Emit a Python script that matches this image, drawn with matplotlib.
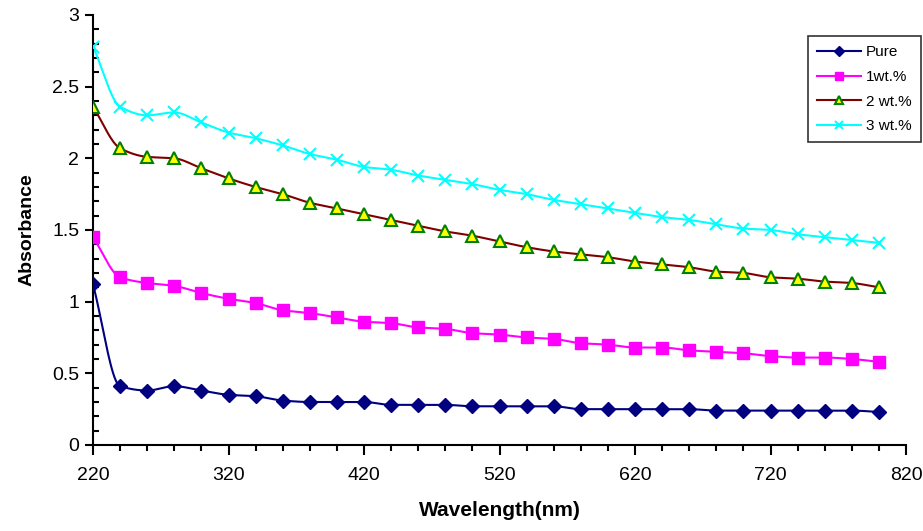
import numpy as np
import matplotlib.pyplot as plt
from matplotlib.ticker import MultipleLocator

plt.rcParams['font.family'] = ['Liberation Sans', 'DejaVu Sans']

wavelength = list(range(220, 801, 20))

pure = [1.12, 0.41, 0.38, 0.41, 0.38, 0.35, 0.34, 0.31, 0.30, 0.30,
        0.30, 0.28, 0.28, 0.28, 0.27, 0.27, 0.27, 0.27, 0.25, 0.25,
        0.25, 0.25, 0.25, 0.24, 0.24, 0.24, 0.24, 0.24, 0.24, 0.23]
wt1 = [1.45, 1.17, 1.13, 1.11, 1.06, 1.02, 0.99, 0.94, 0.92, 0.89,
       0.86, 0.85, 0.82, 0.81, 0.78, 0.77, 0.75, 0.74, 0.71, 0.70,
       0.68, 0.68, 0.66, 0.65, 0.64, 0.62, 0.61, 0.61, 0.60, 0.58]
wt2 = [2.36, 2.07, 2.01, 2.00, 1.93, 1.86, 1.80, 1.75, 1.69, 1.65,
       1.61, 1.57, 1.53, 1.49, 1.46, 1.42, 1.38, 1.35, 1.33, 1.31,
       1.28, 1.26, 1.24, 1.21, 1.20, 1.17, 1.16, 1.14, 1.13, 1.10]
wt3 = [2.78, 2.36, 2.30, 2.32, 2.25, 2.18, 2.14, 2.09, 2.03, 1.99,
       1.94, 1.92, 1.88, 1.85, 1.82, 1.78, 1.75, 1.71, 1.68, 1.65,
       1.62, 1.59, 1.57, 1.54, 1.51, 1.50, 1.47, 1.45, 1.43, 1.41]

labels = ['Pure', '1wt.%', '2 wt.%', '3 wt.%']
xticks = list(range(220, 821, 100))
yticks = [0, 0.5, 1, 1.5, 2, 2.5, 3]
yticklabels = ['0', '0.5', '1', '1.5', '2', '2.5', '3']


def smooth(x, y, n=20):
    # hermite curve with monotone tangents, no overshoot
    x = np.asarray(x, float)
    y = np.asarray(y, float)
    h = np.diff(x)
    d = np.diff(y) / h
    m = np.zeros_like(y)
    m[0], m[-1] = d[0], d[-1]
    for i in range(1, len(y) - 1):
        if d[i - 1] * d[i] <= 0:
            m[i] = 0
        else:
            m[i] = 2 / (1 / d[i - 1] + 1 / d[i])
    xs, ys = [], []
    t = np.linspace(0, 1, n, endpoint=False)
    for i in range(len(x) - 1):
        h00 = 2 * t ** 3 - 3 * t ** 2 + 1
        h10 = t ** 3 - 2 * t ** 2 + t
        h01 = -2 * t ** 3 + 3 * t ** 2
        h11 = t ** 3 - t ** 2
        xs.extend(x[i] + t * h[i])
        ys.extend(h00 * y[i] + h10 * h[i] * m[i] + h01 * y[i + 1] + h11 * h[i] * m[i + 1])
    xs.append(x[-1])
    ys.append(y[-1])
    return xs, ys


fig = plt.figure(figsize=(9.23, 5.31), dpi=100)
ax = fig.add_axes([0.1008, 0.162, 0.8808, 0.8098])

styles = [
    dict(color='#000080', marker='D', ms=7, mfc='#000080', mec='#000080'),
    dict(color='#FF00FF', marker='s', ms=8, mfc='#FF00FF', mec='#FF00FF'),
    dict(color='#800000', marker='^', ms=9, mfc='#FFFF00', mec='#008000', mew=1.5),
    dict(color='#00FFFF', marker='x', ms=8, mfc='#00FFFF', mec='#00FFFF', mew=1.5),
]

for data, lab, st in zip([pure, wt1, wt2, wt3], labels, styles):
    sx, sy = smooth(wavelength, data)
    ax.plot(sx, sy, color=st['color'], lw=1.5, zorder=2)
    ax.plot(wavelength, data, ls='none', zorder=3, **st)
    ax.plot([], [], lw=1.5, label=lab, **{k: v for k, v in st.items() if k != 'ms'},
            ms=st['ms'] * 0.7)

ax.set_xlim(220, 820)
ax.set_ylim(0, 3)
ax.set_xticks(xticks)
ax.xaxis.set_minor_locator(MultipleLocator(20))
ax.set_yticks(yticks, yticklabels)
ax.yaxis.set_minor_locator(MultipleLocator(0.1))

for s in ['top', 'right']:
    ax.spines[s].set_visible(False)
for s in ['left', 'bottom']:
    ax.spines[s].set_linewidth(1.5)

ax.tick_params(axis='x', which='major', direction='out', length=7, width=1.5,
               labelsize=14, pad=9)
ax.tick_params(axis='x', which='minor', direction='out', length=4, width=1.5)
ax.tick_params(axis='y', which='major', direction='out', length=6, width=1.5,
               labelsize=14, pad=4)
ax.tick_params(axis='y', which='minor', direction='in', length=4, width=1.5)

ax.set_xlabel('Wavelength(nm)', fontsize=15, fontweight='bold', labelpad=12)
ax.set_ylabel('Absorbance', fontsize=14, fontweight='bold', labelpad=12)

leg = ax.legend(loc='upper left', bbox_to_anchor=(808 / 923, 1 - 36 / 531),
                bbox_transform=fig.transFigure, fontsize=11, frameon=True,
                fancybox=False, edgecolor='black', handlelength=2.9,
                labelspacing=0.7, borderpad=0.6, handletextpad=0.3,
                borderaxespad=0)
leg.get_frame().set_linewidth(1.2)

fig.savefig('out.png', dpi=100)
